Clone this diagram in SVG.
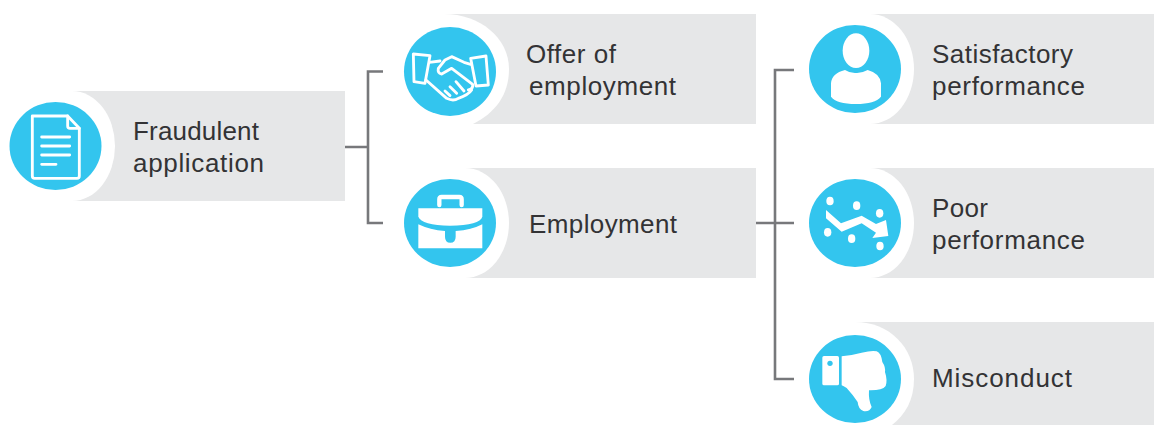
<svg xmlns="http://www.w3.org/2000/svg" width="1154" height="425" viewBox="0 0 1154 425">
<style>
.bar{fill:#e6e7e8}
.halo{fill:#fff}
.disc{fill:#33c5ee}
.wf{fill:#fff}
.ws{fill:none;stroke:#fff;stroke-width:8.5;stroke-linejoin:round;stroke-linecap:round}
.lbl{font-family:"Liberation Sans",Arial,sans-serif;font-size:26px;fill:#333335}
.conn{fill:none;stroke:#77787b;stroke-width:2.6}
</style>
<rect width="1154" height="425" fill="#fff"/>
<g id="connectors">
<path class="conn" d="M345 147H368M383 71.5H368V223H383"/>
<path class="conn" d="M756 223H794M794 70H775V379H794"/>
</g>
<g id="node-fraudulent">
<rect class="bar" x="72" y="91" width="273" height="110"/>
<ellipse class="halo" cx="72" cy="146" rx="43" ry="55"/>
<ellipse class="disc" cx="55.5" cy="146" rx="46" ry="44"/>
<g transform="translate(0,80) scale(.3333)">
<path class="ws" d="M97 108H203L238 145V288Q238 295 231 295H104Q97 295 97 288Z"/>
<path class="ws" d="M203 108V138Q203 145 210 145H238"/>
<path class="ws" d="M125 171H209M125 198H209M125 225H209M125 253H168"/>
</g>
<text class="lbl" x="133" y="140" textLength="126">Fraudulent</text>
<text class="lbl" x="133" y="172" textLength="131">application</text>
</g>
<g id="node-offer">
<rect class="bar" x="444" y="14" width="312" height="110"/>
<path class="halo" d="M444 14C480 14 509 38 509 69C509 95 495 113 473 124H444Z"/>
<ellipse class="disc" cx="450" cy="71.5" rx="46" ry="44.5"/>
<g transform="translate(390,5) scale(.3333)">
<path class="ws" d="M70 147L120 152L105 235L72 230Z"/>
<path class="ws" d="M242 160L288 153L295 240L258 243Z"/>
<path class="ws" d="M118 172L150 168M242 178L222 172L185 155L165 165L145 190Q142 205 155 207L185 190L248 238Q250 252 235 255"/>
<path class="ws" d="M108 225L170 280Q190 290 205 280Q235 270 245 255M165 258L180 272M180 245L200 265M198 230L222 258"/>
</g>
<text class="lbl" x="526" y="63" textLength="90">Offer of</text>
<text class="lbl" x="529" y="95" textLength="147">employment</text>
</g>
<g id="node-employment">
<rect class="bar" x="465" y="168" width="291" height="110"/>
<ellipse class="halo" cx="465" cy="223" rx="44" ry="55"/>
<ellipse class="disc" cx="450" cy="223" rx="46" ry="44"/>
<g transform="translate(390,160) scale(.3333)">
<path class="ws" style="stroke-width:13" d="M148 135V118Q148 111 155 111H208Q215 111 215 118V135"/>
<path class="wf" d="M85 145H277V170Q270 195 180 197Q95 195 85 170Z"/>
<path class="wf" d="M85 193Q120 210 165 213V230Q165 248 181 248Q197 248 197 230V213Q245 210 277 193V265H85Z"/>
</g>
<text class="lbl" x="529" y="233" textLength="148">Employment</text>
</g>
<g id="node-satisfactory">
<rect class="bar" x="870" y="14" width="284" height="110"/>
<ellipse class="halo" cx="870" cy="69" rx="44" ry="55"/>
<ellipse class="disc" cx="855" cy="69" rx="46" ry="44"/>
<g transform="translate(795,5) scale(.3333)">
<ellipse class="wf" cx="183" cy="137" rx="40" ry="52"/>
<path class="wf" d="M108 275V235Q110 205 150 195Q165 205 183 204Q200 205 218 195Q255 205 258 235V275Q240 297 183 297Q125 297 108 275Z"/>
</g>
<text class="lbl" x="932" y="63" textLength="141">Satisfactory</text>
<text class="lbl" x="932" y="95" textLength="153">performance</text>
</g>
<g id="node-poor">
<rect class="bar" x="870" y="168" width="284" height="110"/>
<ellipse class="halo" cx="870" cy="223" rx="44" ry="55"/>
<ellipse class="disc" cx="855" cy="223" rx="46" ry="44"/>
<g transform="translate(795,160) scale(.3333)">
<ellipse class="wf" cx="105" cy="123" rx="11" ry="13"/>
<ellipse class="wf" cx="185" cy="137" rx="11" ry="13"/>
<ellipse class="wf" cx="254" cy="160" rx="11" ry="13"/>
<ellipse class="wf" cx="98" cy="217" rx="11" ry="13"/>
<ellipse class="wf" cx="170" cy="236" rx="11" ry="13"/>
<ellipse class="wf" cx="255" cy="258" rx="11" ry="13"/>
<path class="wf" d="M93 150L138 190L200 167L243 192L273 180L280 228L232 234L243 218L200 190L140 215L93 175Z"/>
</g>
<text class="lbl" x="932" y="217" textLength="56">Poor</text>
<text class="lbl" x="932" y="249" textLength="153">performance</text>
</g>
<g id="node-misconduct">
<rect class="bar" x="855" y="322" width="299" height="103"/>
<path class="halo" d="M855 322C890 322 914 348 914 379C914 400 905 415 892 425H855Z"/>
<ellipse class="disc" cx="855" cy="379" rx="46" ry="44"/>
<g transform="translate(795,312) scale(.3333)">
<rect class="wf" x="82" y="132" width="50" height="88" rx="5"/>
<circle class="disc" cx="105" cy="154" r="8"/>
<path class="wf" d="M140 133Q170 130 200 122Q230 115 245 118Q258 122 262 150Q272 165 270 180Q278 205 272 222Q262 236 222 235Q220 265 230 285Q224 300 205 297Q190 292 188 270Q175 250 155 228Q145 222 140 220Z"/>
</g>
<text class="lbl" x="932" y="387" textLength="140">Misconduct</text>
</g>
</svg>
